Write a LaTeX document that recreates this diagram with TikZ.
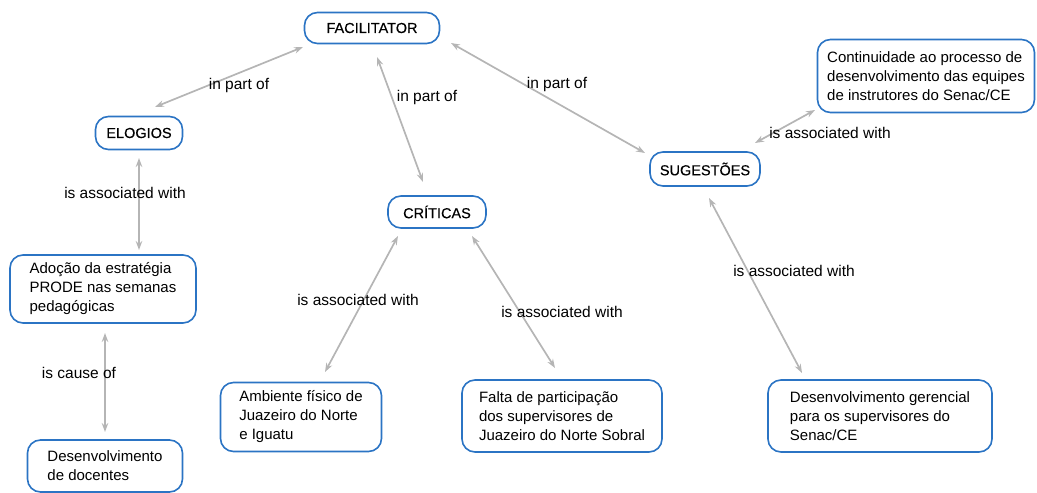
\documentclass[tikz,border=0pt]{standalone}
\usepackage{fontspec}
\setmainfont{Liberation Sans}
\newfontfamily\titlefont{Liberation Sans}[FakeBold=0.35]
\usetikzlibrary{arrows.meta}
\usetikzlibrary{positioning}
\definecolor{boxblue}{HTML}{2B74C4}
\definecolor{linkgray}{HTML}{B5B5B5}

\begin{document}
\begin{tikzpicture}[x=1pt, y=-1pt,
    concept/.style={draw=boxblue, line width=1.6pt, rounded corners=13pt, fill=white,
        inner sep=0pt, align=left, font=\fontsize{15}{19}\selectfont},
    title/.style={concept, font=\titlefont\fontsize{14.5}{19}\selectfont},
    link/.style={draw=linkgray, line width=1.7pt,
        {Stealth[length=9pt, width=6.5pt]}-{Stealth[length=9pt, width=6.5pt]}},
    lbl/.style={inner sep=0pt, font=\fontsize{15.5}{19}\selectfont}]
    \useasboundingbox (0,0) rectangle (1037,493);

    % Concepts
    \node[title, minimum width=135pt, minimum height=31pt] (fac) at (372,28) {FACILITATOR};
    \node[title, minimum width=87pt, minimum height=33pt] (elo) at (139,133) {ELOGIOS};
    \node[title, minimum width=98pt, minimum height=32pt] (cri) at (437,212) {CRÍTICAS};
    \node[title, minimum width=110pt, minimum height=34pt] (sug) at (705,169) {SUGESTÕES};
    \node[concept, minimum width=186pt, minimum height=68pt] (ado) at (103,289)
        {Adoção da estratégia\\PRODE nas semanas\\pedagógicas};
    \node[concept, minimum width=155pt, minimum height=52pt] (des) at (105,466)
        {Desenvolvimento\\de docentes};
    \node[concept, minimum width=161pt, minimum height=69pt] (amb) at (301,417)
        {Ambiente físico de\\Juazeiro do Norte\\e Iguatu};
    \node[concept, minimum width=200pt, minimum height=72pt] (fal) at (562,416)
        {Falta de participação\\dos supervisores de\\Juazeiro do Norte Sobral};
    \node[concept, minimum width=217pt, minimum height=73pt] (con) at (926,76)
        {Continuidade ao processo de\\desenvolvimento das equipes\\de instrutores do Senac/CE};
    \node[concept, minimum width=224pt, minimum height=72pt] (ger) at (880,416)
        {Desenvolvimento gerencial\\para os supervisores do\\Senac/CE};

    % Links from FACILITADOR
    \draw[link] ([shift={(-69,19)}]fac.center) -- ([shift={(16,-26)}]elo.center)
        node[lbl, midway, xshift=10pt, yshift=-8pt] {in part of};
    \draw[link] ([shift={(5,29)}]fac.center) -- ([shift={(-14,-30)}]cri.center)
        node[lbl, midway, xshift=27pt, yshift=22.5pt] {in part of};
    \draw[link] ([shift={(79,15)}]fac.center) -- ([shift={(-60,-16)}]sug.center)
        node[lbl, midway, xshift=9pt, yshift=14pt] {in part of};

    % ELOGIOS branch
    \draw[link] ([shift={(0,25)}]elo.center) -- ([shift={(36,-39)}]ado.center)
        node[lbl, midway, xshift=-14pt, yshift=11pt] {is associated with};
    \draw[link] ([shift={(2,44)}]ado.center) -- ([shift={(0,-34)}]des.center)
        node[lbl, midway, xshift=-26pt, yshift=9.5pt] {is cause of};

    % CRÍTICAS branch
    \draw[link] ([shift={(-39,24)}]cri.center) -- ([shift={(24,-45)}]amb.center)
        node[lbl, midway, xshift=-3.5pt, yshift=4pt] {is associated with};
    \draw[link] ([shift={(35,24)}]cri.center) -- ([shift={(-7,-48)}]fal.center)
        node[lbl, midway, xshift=48.5pt, yshift=-10pt] {is associated with};

    % SUGESTÕES branch
    \draw[link] ([shift={(50,-26)}]sug.center) -- ([shift={(-111,34)}]con.center)
        node[lbl, midway, xshift=45pt, yshift=-6.5pt] {is associated with};
    \draw[link] ([shift={(4,29)}]sug.center) -- ([shift={(-78,-43)}]ger.center)
        node[lbl, midway, xshift=38.5pt, yshift=14.5pt] {is associated with};
\end{tikzpicture}
\end{document}
